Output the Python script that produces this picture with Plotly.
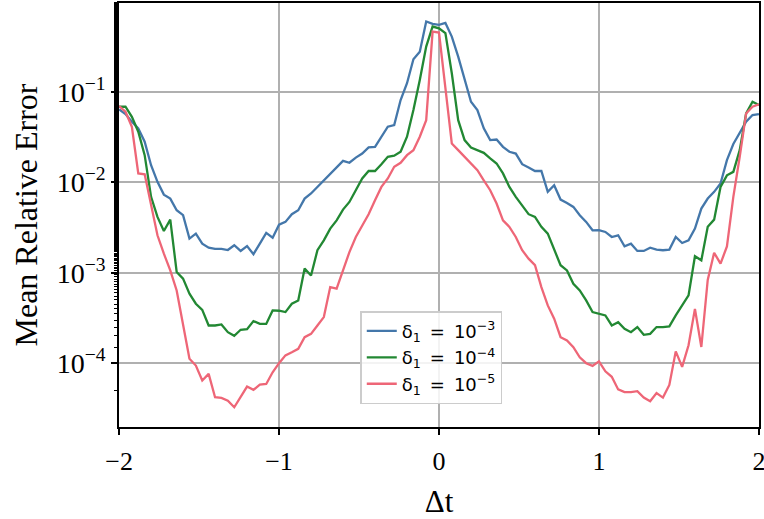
import numpy as np
import plotly.graph_objects as go

# x grid: 101 samples of Δt from -2 to 2
dt = np.linspace(-2, 2, 101)

err_d1e3 = [0.0637, 0.0566, 0.0466, 0.0393, 0.0280, 0.0154, 0.0101, 0.00729, 0.00659, 0.00490,
            0.00432, 0.00238, 0.00270, 0.00209, 0.00189, 0.00183, 0.00183, 0.00178, 0.00201, 0.00174,
            0.00197, 0.00160, 0.00209, 0.00275, 0.00244, 0.00339, 0.00364, 0.00443, 0.00490, 0.00659,
            0.00750, 0.00887, 0.0105, 0.0125, 0.0148, 0.0172, 0.0164, 0.0187, 0.0207, 0.0242,
            0.0246, 0.0323, 0.0410, 0.0428, 0.0809, 0.124, 0.228, 0.277, 0.596, 0.561,
            0.547, 0.575, 0.406, 0.244, 0.135, 0.0774, 0.0627, 0.0393, 0.0292, 0.0296,
            0.0246, 0.0217, 0.0207, 0.0158, 0.0145, 0.0133, 0.0133, 0.00782, 0.00927, 0.00643,
            0.00590, 0.00533, 0.00432, 0.00364, 0.00294, 0.00295, 0.00282, 0.00248, 0.00259, 0.00196,
            0.00209, 0.00174, 0.00174, 0.00189, 0.00180, 0.00177, 0.00180, 0.00248, 0.00213, 0.00228,
            0.00307, 0.00511, 0.00659, 0.00782, 0.00966, 0.0175, 0.0264, 0.0346, 0.0466, 0.0552,
            0.0566]

err_d1e4 = [0.0682, 0.0682, 0.0528, 0.0361, 0.0199, 0.00689, 0.00413, 0.00289, 0.00386, 0.00102,
            0.000859, 0.000586, 0.000454, 0.000389, 0.000261, 0.000261, 0.000268, 0.000220, 0.000201, 0.000234,
            0.000238, 0.000292, 0.000272, 0.000272, 0.000383, 0.000380, 0.000367, 0.000454, 0.000494, 0.00111,
            0.000933, 0.00177, 0.00228, 0.00307, 0.00379, 0.00498, 0.00605, 0.00815, 0.0110, 0.0133,
            0.0133, 0.0158, 0.0191, 0.0196, 0.0217, 0.0318, 0.0627, 0.135, 0.315, 0.525,
            0.502, 0.443, 0.160, 0.0485, 0.0292, 0.0242, 0.0226, 0.0211, 0.0183, 0.0161,
            0.0125, 0.00887, 0.00689, 0.00556, 0.00443, 0.00413, 0.00321, 0.00270, 0.00177, 0.00121,
            0.00106, 0.000755, 0.000637, 0.000494, 0.000367, 0.000355, 0.000337, 0.000261, 0.000284, 0.000240,
            0.000220, 0.000251, 0.000206, 0.000211, 0.000251, 0.000251, 0.000255, 0.000337, 0.000435, 0.000561,
            0.00152, 0.00137, 0.00321, 0.00386, 0.00887, 0.0119, 0.0130, 0.0226, 0.0575, 0.0774,
            0.0711]

err_d1e5 = [0.0693, 0.0601, 0.0410, 0.0125, 0.0122, 0.00581, 0.00259, 0.00162, 0.00106, 0.000637,
            0.000272, 0.000112, 0.0000942, 0.0000643, 0.0000762, 0.0000421, 0.0000413, 0.0000386, 0.0000326, 0.0000421,
            0.0000552, 0.0000507, 0.0000581, 0.0000590, 0.0000794, 0.000100, 0.000122, 0.000132, 0.000144, 0.000194,
            0.000211, 0.000261, 0.000323, 0.000693, 0.000665, 0.00106, 0.00169, 0.00248, 0.00334, 0.00443,
            0.00632, 0.00887, 0.0110, 0.0148, 0.0164, 0.0199, 0.0226, 0.0318, 0.0485, 0.461,
            0.450, 0.114, 0.0268, 0.0226, 0.0191, 0.0158, 0.0136, 0.0105, 0.00815, 0.00581,
            0.00379, 0.00321, 0.00248, 0.00177, 0.00143, 0.00121, 0.000693, 0.000435, 0.000310, 0.000194,
            0.000178, 0.000150, 0.000116, 0.000100, 0.0000933, 0.000105, 0.0000813, 0.0000708, 0.0000513, 0.0000479,
            0.0000479, 0.0000490, 0.0000417, 0.0000380, 0.0000468, 0.0000417, 0.0000575, 0.000135, 0.0000912, 0.000158,
            0.000398, 0.000151, 0.000832, 0.00166, 0.00126, 0.00195, 0.00689, 0.0191, 0.0575, 0.0682,
            0.0724]

series_names = ["δ<sub>1</sub>\u2002=\u200210<sup>−3</sup>",
                "δ<sub>1</sub>\u2002=\u200210<sup>−4</sup>",
                "δ<sub>1</sub>\u2002=\u200210<sup>−5</sup>"]
series_colors = ["#4477AA", "#228833", "#EE6677"]

x_ticks = [-2, -1, 0, 1, 2]
x_ticktext = ["−2", "−1", "0", "1", "2"]
y_ticks = [1e-4, 1e-3, 1e-2, 1e-1]
y_ticktext = ["10<sup>−4</sup>", "10<sup>−3</sup>", "10<sup>−2</sup>", "10<sup>−1</sup>"]

fig = go.Figure()
for vals, name, col in zip([err_d1e3, err_d1e4, err_d1e5], series_names, series_colors):
    fig.add_trace(go.Scatter(x=dt, y=vals, mode="lines", name=name,
                             line=dict(color=col, width=2.3)))

serif = "Liberation Serif, Times New Roman, serif"
fig.update_layout(
    width=764, height=519,
    margin=dict(l=119, r=5, t=3, b=92),
    paper_bgcolor="white", plot_bgcolor="white",
    font=dict(family=serif, color="black"),
    showlegend=True,
    legend=dict(x=0.377, y=0.273, xanchor="left", yanchor="top",
                bgcolor="rgba(255,255,255,0.85)", bordercolor="#cccccc", borderwidth=1.5,
                font=dict(family="DejaVu Sans", size=18, color="black"),
                tracegroupgap=0, itemwidth=30),
)
fig.update_xaxes(
    range=[-2.0005, 2.0005], tickvals=x_ticks, ticktext=x_ticktext,
    showgrid=True, gridcolor="#b0b0b0", gridwidth=1.5,
    showline=True, linecolor="black", linewidth=1.5, mirror=True,
    ticks="outside", ticklen=6, tickwidth=1.5, tickcolor="black",
    tickfont=dict(family=serif, size=26), ticklabelstandoff=4,
    ticklabeloverflow="allow",
    title=dict(text="Δt", font=dict(family=serif, size=31), standoff=18),
    zeroline=False, automargin=False,
)
fig.update_yaxes(
    type="log", range=[-4.705, -0.02], tickvals=y_ticks, ticktext=y_ticktext,
    showgrid=True, gridcolor="#b0b0b0", gridwidth=1.5,
    showline=True, linecolor="black", linewidth=1.5, mirror=True,
    ticks="outside", ticklen=6, tickwidth=1.5, tickcolor="black",
    tickfont=dict(family=serif, size=28),
    minor=dict(ticks="outside", ticklen=3.5, tickwidth=1, tickcolor="black", showgrid=False),
    title=dict(text="Mean Relative Error", font=dict(family=serif, size=32), standoff=10),
    zeroline=False, automargin=False,
)

fig.write_html("out.html", config={"displayModeBar": False},
               post_script="document.body.style.margin='0';document.body.style.overflow='hidden';")
